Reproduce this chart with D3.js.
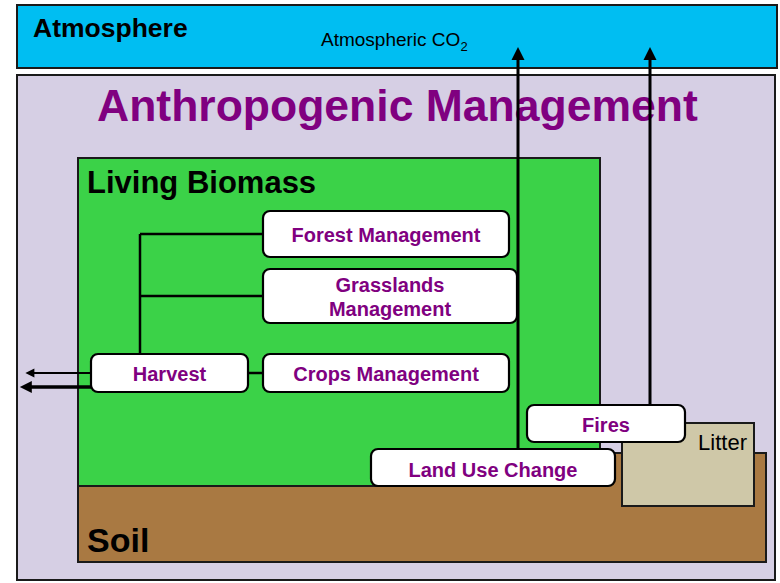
<!DOCTYPE html>
<html>
<head>
<meta charset="utf-8">
<script src="https://cdn.jsdelivr.net/npm/d3@7"></script>
<style>
  body { margin: 0; background: #fff; }
  svg { display: block; font-family: "Liberation Sans", Arial, sans-serif; }
</style>
</head>
<body>
<svg id="chart" width="780" height="583"></svg>
<script>
// pools (big coloured areas) and process labels
var poolNames = ["Atmosphere", "Anthropogenic Management", "Living Biomass", "Soil", "Litter"];
var processLabels = [["Forest Management"], ["Grasslands", "Management"], ["Crops Management"], ["Harvest"], ["Fires"], ["Land Use Change"]];
var gasLabel = ["Atmospheric CO", "2"];

var svg = d3.select("#chart");
var purple = "#800080";

// layout in pixels
var pools = [
  { name: poolNames[0], x: 17, y: 5,   w: 760, h: 63,  fill: "#00bef2" },
  { name: poolNames[1], x: 17, y: 75,  w: 758, h: 505, fill: "#d6cfe4" },
  { name: poolNames[3], x: 78, y: 453, w: 688, h: 109, fill: "#a97942" },
  { name: poolNames[2], x: 78, y: 158, w: 522, h: 328, fill: "#3bd248" },
  { name: poolNames[4], x: 622, y: 423, w: 132, h: 83, fill: "#cfc8a8" }
];

svg.selectAll("rect.pool")
  .data(pools)
  .enter().append("rect")
    .attr("class", "pool")
    .attr("x", function(d){ return d.x; })
    .attr("y", function(d){ return d.y; })
    .attr("width", function(d){ return d.w; })
    .attr("height", function(d){ return d.h; })
    .attr("fill", function(d){ return d.fill; })
    .attr("stroke", "#1a1a1a")
    .attr("stroke-width", 2);

// pool titles
var titles = [
  { t: poolNames[0], x: 33, y: 37,  size: 26.5, fill: "#000", weight: "bold", anchor: "start" },
  { t: poolNames[1], x: 97, y: 121, size: 44.5, fill: purple, weight: "bold", anchor: "start" },
  { t: poolNames[2], x: 87, y: 193, size: 31, fill: "#000", weight: "bold", anchor: "start" },
  { t: poolNames[3], x: 87, y: 552, size: 34, fill: "#000", weight: "bold", anchor: "start" },
  { t: poolNames[4], x: 747, y: 450, size: 22, fill: "#000", weight: "normal", anchor: "end" }
];

svg.selectAll("text.title")
  .data(titles)
  .enter().append("text")
    .attr("class", "title")
    .attr("x", function(d){ return d.x; })
    .attr("y", function(d){ return d.y; })
    .attr("font-size", function(d){ return d.size; })
    .attr("font-weight", function(d){ return d.weight; })
    .attr("text-anchor", function(d){ return d.anchor; })
    .attr("fill", function(d){ return d.fill; })
    .text(function(d){ return d.t; });

var co2 = svg.append("text")
  .attr("x", 321).attr("y", 46)
  .attr("font-size", 19)
  .text(gasLabel[0]);
co2.append("tspan")
  .attr("font-size", 13)
  .attr("dy", 5)
  .text(gasLabel[1]);

// connector lines of the harvest tree
var links = [
  [[140, 234], [263, 234]],
  [[140, 296], [263, 296]],
  [[140, 234], [140, 354]],
  [[248, 373], [263, 373]]
];
var line = d3.line();
svg.selectAll("path.link")
  .data(links)
  .enter().append("path")
    .attr("class", "link")
    .attr("d", line)
    .attr("fill", "none")
    .attr("stroke", "#000")
    .attr("stroke-width", 2.5);

// flux arrows : [from, to, width, head size]
var arrows = [
  { p: [[518, 449], [518, 58]], w: 3,   head: 13 },
  { p: [[650, 405], [650, 58]], w: 3,   head: 13 },
  { p: [[91, 373], [33, 373]],  w: 2,   head: 9 },
  { p: [[91, 387], [30, 387]],  w: 3.5, head: 12 }
];

svg.selectAll("path.flux")
  .data(arrows)
  .enter().append("path")
    .attr("class", "flux")
    .attr("d", function(d){ return line(d.p); })
    .attr("stroke", "#000")
    .attr("stroke-width", function(d){ return d.w; });

svg.selectAll("path.head")
  .data(arrows)
  .enter().append("path")
    .attr("class", "head")
    .attr("fill", "#000")
    .attr("d", function(d){
      var a = d.p[0], b = d.p[1];
      var dx = b[0] - a[0], dy = b[1] - a[1];
      var len = Math.sqrt(dx * dx + dy * dy);
      var ux = dx / len, uy = dy / len;
      var h = d.head, s = h * 0.5;
      var tip = [b[0] + ux * h * 0.85, b[1] + uy * h * 0.85];
      var base = [b[0] - ux * h * 0.15, b[1] - uy * h * 0.15];
      return line([tip, [base[0] - uy * s, base[1] + ux * s], [base[0] + uy * s, base[1] - ux * s], tip]) + "Z";
    });

// process boxes
var boxes = [
  { lines: processLabels[0], x: 263, y: 211, w: 246, h: 46, ty: [242] },
  { lines: processLabels[1], x: 263, y: 269, w: 254, h: 54, ty: [292, 316] },
  { lines: processLabels[2], x: 263, y: 354, w: 246, h: 38, ty: [381] },
  { lines: processLabels[3], x: 91,  y: 354, w: 157, h: 38, ty: [381] },
  { lines: processLabels[4], x: 527, y: 405, w: 158, h: 37, ty: [432] },
  { lines: processLabels[5], x: 371, y: 449, w: 244, h: 37, ty: [477] }
];

var g = svg.selectAll("g.box")
  .data(boxes)
  .enter().append("g")
    .attr("class", "box");

g.append("rect")
  .attr("x", function(d){ return d.x; })
  .attr("y", function(d){ return d.y; })
  .attr("width", function(d){ return d.w; })
  .attr("height", function(d){ return d.h; })
  .attr("rx", 7)
  .attr("fill", "#fff")
  .attr("stroke", "#000")
  .attr("stroke-width", 2.2);

g.each(function(d){
  var sel = d3.select(this);
  d.lines.forEach(function(t, i){
    sel.append("text")
      .attr("x", d.x + d.w / 2)
      .attr("y", d.ty[i])
      .attr("text-anchor", "middle")
      .attr("font-size", 20)
      .attr("font-weight", "bold")
      .attr("fill", purple)
      .text(t);
  });
});
</script>
</body>
</html>
